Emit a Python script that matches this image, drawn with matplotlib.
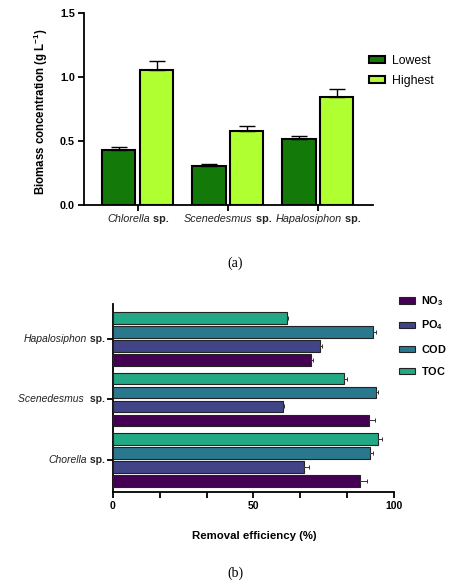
import numpy as np
import matplotlib
matplotlib.use("Agg")
import matplotlib.pyplot as plt
from matplotlib.offsetbox import TextArea, HPacker, AnnotationBbox

plt.rcParams['font.family'] = ['Liberation Sans', 'DejaVu Sans']
plt.rcParams['mathtext.fontset'] = 'custom'
plt.rcParams['mathtext.rm'] = 'Liberation Sans'
plt.rcParams['mathtext.it'] = 'Liberation Sans:italic'
plt.rcParams['mathtext.bf'] = 'Liberation Sans:bold'

#----------------------------------------------------------#
# data (a) biomass
#----------------------------------------------------------#
species_a = ['Chlorella', 'Scenedesmus', 'Hapalosiphon']
lowest = [0.434, 0.305, 0.518]
lowest_err = [0.021, 0.020, 0.022]
highest = [1.059, 0.580, 0.848]
highest_err = [0.066, 0.040, 0.058]

#----------------------------------------------------------#
# data (b) removal efficiency, bottom -> top
#----------------------------------------------------------#
species_b = ['Chorella', 'Scenedesmus ', 'Hapalosiphon']
params = [r'$\mathbf{NO_3}$', r'$\mathbf{PO_4}$', r'$\mathbf{COD}$', r'$\mathbf{TOC}$']
no3 = [88.0, 91.2, 70.4]
no3_err = [2.2, 1.8, 0.7]
po4 = [68.0, 60.4, 73.5]
po4_err = [1.6, 0.6, 0.8]
cod = [91.5, 93.4, 92.5]
cod_err = [0.9, 0.7, 0.9]
toc = [94.1, 82.2, 61.9]
toc_err = [1.6, 1.1, 0.3]

col_a = ['#137a0a', '#b0ff30']
col_b = ['#440154', '#414487', '#2a788e', '#22a884']


def species_label(ax, name, xy, xycoords, offset, align, size):
    # italic genus + bold "sp." as one label
    t1 = TextArea(name, textprops=dict(fontstyle='italic', fontsize=size, color='#222222'))
    t2 = TextArea(' sp.', textprops=dict(fontweight='bold', fontsize=size, color='#222222'))
    box = HPacker(children=[t1, t2], align='baseline', pad=0, sep=0)
    ab = AnnotationBbox(box, xy, xycoords=xycoords, xybox=offset, boxcoords='offset points',
                        box_alignment=align, frameon=False, annotation_clip=False)
    ax.add_artist(ab)


fig = plt.figure(figsize=(4.49, 5.85), dpi=100)

#----------------------------------------------------------#
# panel a
#----------------------------------------------------------#
ax1 = fig.add_axes([0.187, 0.649, 0.644, 0.328])
x = np.arange(len(species_a))
w = 0.37
ax1.bar(x - 0.21, lowest, w, color=col_a[0], edgecolor='black', linewidth=1.5,
        yerr=[np.zeros(3), lowest_err], capsize=6, error_kw=dict(elinewidth=1.0, capthick=1.0),
        label='Lowest', zorder=3)
ax1.bar(x + 0.21, highest, w, color=col_a[1], edgecolor='black', linewidth=1.5,
        yerr=[np.zeros(3), highest_err], capsize=6, error_kw=dict(elinewidth=1.0, capthick=1.0),
        label='Highest', zorder=3)
ax1.set_xlim(-0.597, 2.614)
ax1.set_ylim(0, 1.5)
ax1.set_yticks([0, 0.5, 1.0, 1.5])
ax1.set_yticklabels(['0.0', '0.5', '1.0', '1.5'], fontweight='bold', fontsize=7.8)
ax1.set_xticks(x)
ax1.set_xticklabels([])
for i, name in enumerate(species_a):
    species_label(ax1, name, (x[i], 0), ('data', 'axes fraction'), (0, -6.5), (0.5, 1), 7.8)
ax1.spines['top'].set_visible(False)
ax1.spines['right'].set_visible(False)
for s in ['left', 'bottom']:
    ax1.spines[s].set_linewidth(1.3)
ax1.tick_params(width=1.3, length=4.5, pad=2)
ax1.set_ylabel(r'Biomass concentration (g L$^{\mathbf{-1}}$)', fontweight='bold', fontsize=8.3)
ax1.yaxis.set_label_coords(-0.119, 0.489)
ax1.legend(loc='center left', bbox_to_anchor=(0.822, 0.879), bbox_transform=fig.transFigure,
           frameon=False, fontsize=8.8, handlelength=1.3, handleheight=0.55,
           handletextpad=0.6, labelspacing=0.65, borderpad=0, borderaxespad=0)

fig.text(0.524, 1 - 263.3 / 585, '(a)', ha='center', va='center', fontsize=10,
         family='Liberation Serif')

#----------------------------------------------------------#
# panel b
#----------------------------------------------------------#
ax2 = fig.add_axes([0.251, 0.1585, 0.627, 0.321])
y = np.arange(len(species_b))
h = 0.19
offs = [-0.345, -0.115, 0.115, 0.345]
vals = [no3, po4, cod, toc]
errs = [no3_err, po4_err, cod_err, toc_err]
for i in range(4):
    ax2.barh(y + offs[i], vals[i], h, color=col_b[i], edgecolor='#222222', linewidth=0.8,
             xerr=[np.zeros(3), errs[i]], capsize=1.5,
             error_kw=dict(elinewidth=0.7, capthick=0.7, ecolor='#333333'),
             label=params[i], zorder=3)
ax2.set_xlim(0, 100)
ax2.set_ylim(-0.532, 2.567)
ax2.set_xticks([0, 50, 100])
ax2.set_xticklabels(['0', '50', '100'], fontweight='bold', fontsize=7.5)
ax2.set_xticks(np.arange(0, 101, 50 / 3), minor=True)
ax2.set_yticks(y)
ax2.set_yticklabels([])
for i, name in enumerate(species_b):
    species_label(ax2, name, (0, y[i]), ('axes fraction', 'data'), (-5.8, 0), (1, 0.5), 7.5)
ax2.spines['top'].set_visible(False)
ax2.spines['right'].set_visible(False)
for s in ['left', 'bottom']:
    ax2.spines[s].set_linewidth(1.3)
ax2.tick_params(which='both', width=1.3, length=4.5, pad=2)
ax2.set_xlabel('Removal efficiency (%)', fontweight='bold', fontsize=8.2)
ax2.xaxis.set_label_coords(0.502, -0.204)
ax2.legend(loc='center left', bbox_to_anchor=(0.889, 0.426), bbox_transform=fig.transFigure,
           frameon=False, fontsize=7.8, handlelength=1.5, handleheight=0.55,
           handletextpad=0.55, labelspacing=0.95, borderpad=0, borderaxespad=0)

fig.text(0.524, 1 - 573 / 585, '(b)', ha='center', va='center', fontsize=10,
         family='Liberation Serif')

fig.savefig('out.png', dpi=100)
